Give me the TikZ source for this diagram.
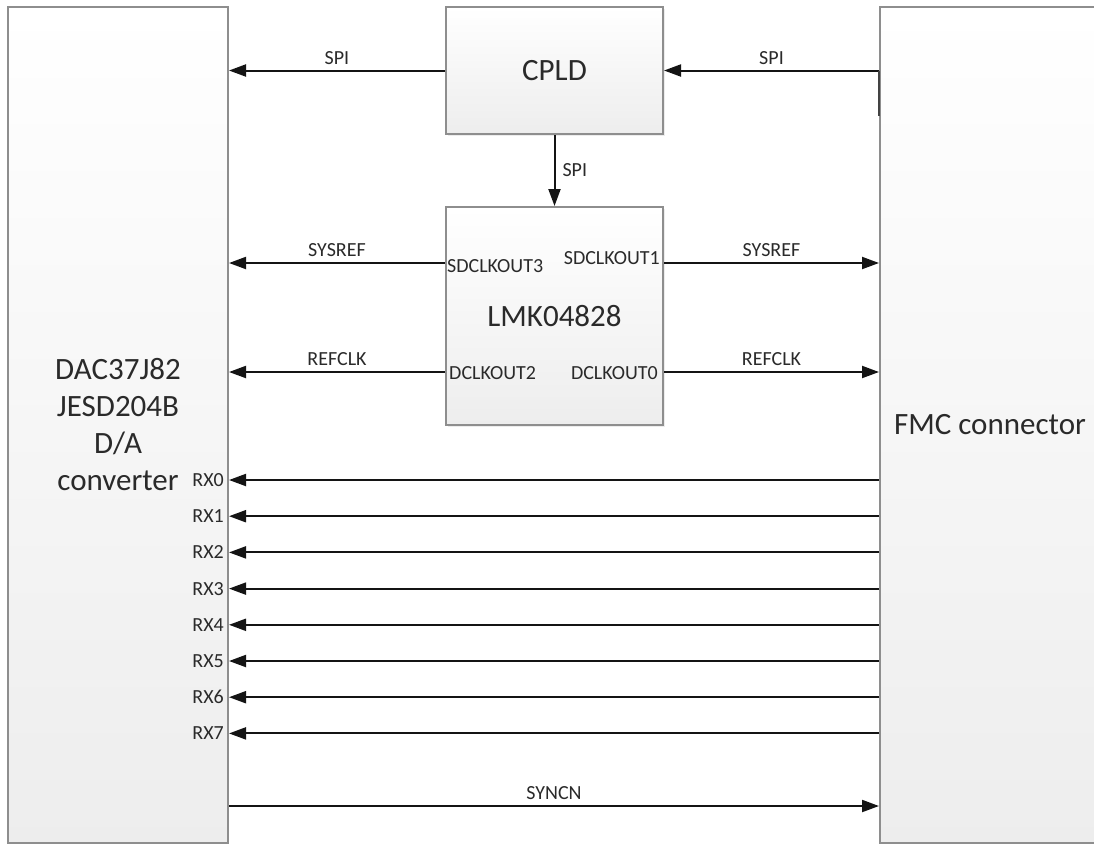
\documentclass[tikz,border=0pt]{standalone}
\usepackage{fontspec}
\setmainfont{Carlito}
\usetikzlibrary{arrows.meta,positioning,shadows}
\definecolor{boxline}{HTML}{8E8E8E}
\definecolor{wire}{HTML}{141414}
\definecolor{txt}{HTML}{2A2A2A}
\tikzset{
  blk/.style={draw=boxline, line width=2pt, top color=white, bottom color=black!7,
    text=txt, font=\fontsize{31}{37}\selectfont, align=center, inner sep=0pt},
  chip/.style={blk, drop shadow={opacity=0.15, shadow xshift=1.5pt, shadow yshift=-1.5pt}},
  lbl/.style={text=txt, font=\fontsize{20}{22}\selectfont, inner sep=1pt},
  sig/.style={draw=wire, line width=2pt, -{Triangle[length=17pt,width=12pt]}},
}
\begin{document}
\begin{tikzpicture}[x=1pt,y=-1pt]
\clip (0,0) rectangle (1094,844);
\fill[white] (0,0) rectangle (1094,844);
% blocks
\node[blk, minimum width=220pt, minimum height=836pt] (dac) at (118,425) {DAC37J82\\JESD204B\\D/A\\converter};
\node[blk, minimum width=220pt, minimum height=836pt] (fmc) at (990,425) {FMC connector};
\node[chip, minimum width=217pt, minimum height=127pt] (cpld) at (554.5,70.5) {CPLD};
\node[chip, minimum width=217pt, minimum height=218pt] (lmk) at (554.5,316) {LMK04828};
% pins of the clock chip
\node[lbl, anchor=west] (sd3) at (446,266) {SDCLKOUT3};
\node[lbl, anchor=east] (sd1) at (661,258) {SDCLKOUT1};
\node[lbl, anchor=west] (dc2) at (448,373) {DCLKOUT2};
\node[lbl, anchor=east] (dc0) at (659,373) {DCLKOUT0};
% SPI
\draw[sig] (cpld.west) -- (dac.east |- cpld.west) node[lbl, midway, above=4pt] (spil) {SPI};
\draw[sig] (fmc.west |- cpld.east) -- (cpld.east) node[lbl, midway, above=4pt] (spir) {SPI};
\draw[draw=wire!80, line width=2.5pt] (fmc.west |- cpld.east) -- ++(0,45);
\draw[sig] (cpld.south) -- (lmk.north) node[lbl, midway, right=6pt] (spid) {SPI};
% clocks
\draw[sig] (lmk.west |- 0,263) -- (dac.east |- 0,263) node[lbl, midway, above=4pt] (srl) {SYSREF};
\draw[sig] (lmk.east |- 0,263) -- (fmc.west |- 0,263) node[lbl, midway, above=4pt] (srr) {SYSREF};
\draw[sig] (lmk.west |- 0,372) -- (dac.east |- 0,372) node[lbl, midway, above=4pt] (rcl) {REFCLK};
\draw[sig] (lmk.east |- 0,372) -- (fmc.west |- 0,372) node[lbl, midway, above=4pt] (rcr) {REFCLK};
% lanes
\foreach \i in {0,...,7}{
  \pgfmathsetmacro\ry{480+36.2*\i}
  \draw[sig] (fmc.west |- 0,\ry) -- (dac.east |- 0,\ry);
  \node[lbl, anchor=east, xshift=-4pt] (rx\i) at (dac.east |- 0,\ry) {RX\i};
}
\draw[sig] (dac.east |- 0,806) -- (fmc.west |- 0,806) node[lbl, midway, above=4pt] (sync) {SYNCN};
\end{tikzpicture}
\end{document}
